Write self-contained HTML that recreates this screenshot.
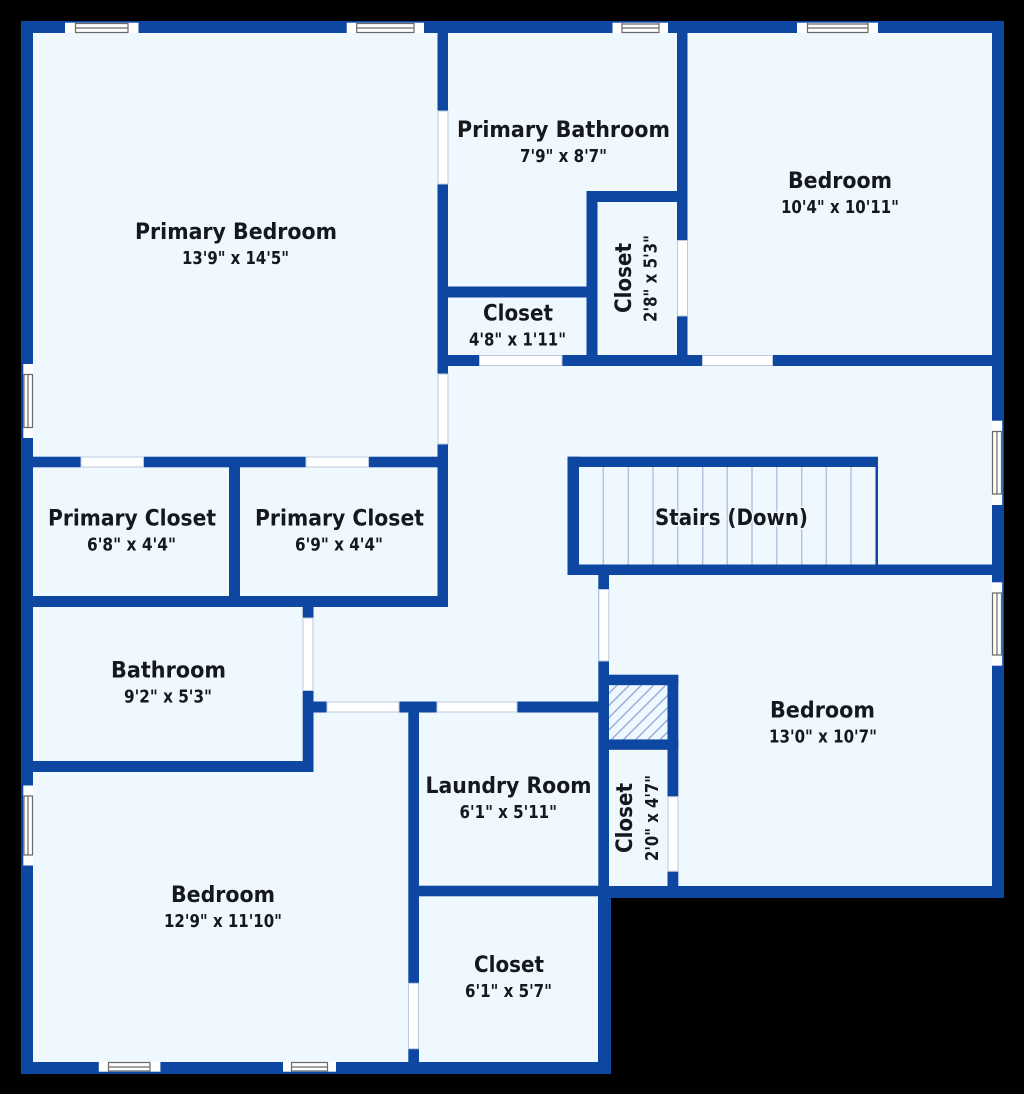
<!DOCTYPE html>
<html><head><meta charset="utf-8"><style>
html,body{margin:0;padding:0;background:#000}
svg{display:block}
text{font-family:"DejaVu Sans","Liberation Sans",sans-serif;font-weight:bold;fill:#15181d}
.t{font-size:22px}.s{font-size:17.5px}
.d{fill:#fff;stroke:#bccadc;stroke-width:1}
.w{fill:#fff;stroke:none}
.l{fill:none;stroke:#6a6a6a;stroke-width:1.2}
.tr{stroke:#b3c5de;stroke-width:1.5}
</style></head><body>
<svg xmlns="http://www.w3.org/2000/svg" width="1024" height="1094" viewBox="0 0 1024 1094">
<defs><pattern id="h" width="8.6" height="8.6" patternUnits="userSpaceOnUse" patternTransform="rotate(45)"><rect width="8.6" height="8.6" fill="#f0f8ff"/><rect x="0" width="1.3" height="8.6" fill="#8ea6d8"/></pattern></defs>
<rect width="1024" height="1094" fill="#000"/>
<polygon fill="#0d47a1" points="21,21 1004,21 1004,898 611,898 611,1074 21,1074"/>
<polygon fill="#f0f8ff" points="33,33 992,33 992,886 598,886 598,1062 33,1062"/>

<g fill="#0d47a1">
<rect x="437.5" y="33" width="10.5" height="574"/>
<rect x="448" y="286.5" width="139" height="11"/>
<rect x="586.5" y="191" width="11" height="164"/>
<rect x="587" y="191" width="90" height="11"/>
<rect x="677" y="33" width="10.5" height="322"/>
<rect x="437.5" y="355" width="554.5" height="11"/>
<rect x="33" y="456.7" width="415" height="10.6"/>
<rect x="229" y="467" width="11" height="130"/>
<rect x="33" y="596" width="415" height="11"/>
<rect x="302.7" y="607" width="10.8" height="165"/>
<rect x="33" y="761" width="280" height="11"/>
<rect x="303" y="701.5" width="296" height="11"/>
<rect x="408.3" y="712" width="10.7" height="350"/>
<rect x="419" y="885.7" width="180" height="10.6"/>
<rect x="598.3" y="575" width="10.7" height="490"/>
<rect x="609" y="674.7" width="69.3" height="10.6"/>
<rect x="609" y="739.3" width="69.3" height="10.5"/>
<rect x="667.5" y="675" width="10.8" height="212"/>
<rect x="567.5" y="456.7" width="310.5" height="10.3"/>
<rect x="567.5" y="456.7" width="11.5" height="118"/>
<rect x="567.5" y="564.5" width="425" height="10.5"/>
<rect x="875.5" y="457" width="2.5" height="108"/>
</g>
<rect x="609" y="685.3" width="58.5" height="54" fill="url(#h)"/>
<g class="tr">
<line x1="603.3" y1="467" x2="603.3" y2="564.5"/><line x1="628.3" y1="467" x2="628.3" y2="564.5"/><line x1="653" y1="467" x2="653" y2="564.5"/><line x1="677.7" y1="467" x2="677.7" y2="564.5"/><line x1="702.7" y1="467" x2="702.7" y2="564.5"/><line x1="727.3" y1="467" x2="727.3" y2="564.5"/><line x1="752" y1="467" x2="752" y2="564.5"/><line x1="776.7" y1="467" x2="776.7" y2="564.5"/><line x1="801.7" y1="467" x2="801.7" y2="564.5"/><line x1="826.3" y1="467" x2="826.3" y2="564.5"/><line x1="851" y1="467" x2="851" y2="564.5"/>
</g>

<!-- doors -->
<g class="d">
<rect x="438" y="111" width="10" height="73"/>
<rect x="438" y="374" width="10" height="70"/>
<rect x="677.5" y="240.5" width="10" height="75.5"/>
<rect x="479.5" y="355.5" width="82.5" height="10"/>
<rect x="702.5" y="355.5" width="70" height="10"/>
<rect x="81" y="457" width="62.5" height="10"/>
<rect x="306" y="457" width="62.5" height="10"/>
<rect x="303" y="618" width="10" height="72.5"/>
<rect x="598.8" y="589.5" width="10" height="71.5"/>
<rect x="327" y="702" width="72" height="10"/>
<rect x="437" y="702" width="80" height="10"/>
<rect x="668" y="796.7" width="10" height="74.6"/>
<rect x="408.5" y="983.3" width="10" height="65.4"/>
</g>

<!-- windows -->
<g class="w">
<rect x="65" y="22.7" width="73.5" height="10.3"/><rect x="346.7" y="22.7" width="77.3" height="10.3"/><rect x="612.5" y="22.7" width="55.5" height="10.3"/><rect x="797" y="22.7" width="81" height="10.3"/>
<rect x="98.8" y="1061.7" width="61.6" height="10"/><rect x="283" y="1061.7" width="53" height="10"/>
<rect x="23.3" y="364" width="9.7" height="74"/><rect x="23.3" y="785.5" width="9.7" height="80"/>
<rect x="991.8" y="420.7" width="10.4" height="84.3"/><rect x="991.8" y="582.3" width="10.4" height="83.4"/>
</g>
<g class="l">
<path d="M75.5 23.5H128M75.5 28H128M75.5 32.5H128M75.5 23V33M128 23V33"/>
<path d="M356.7 23.5H414M356.7 28H414M356.7 32.5H414M356.7 23V33M414 23V33"/>
<path d="M622 24H659M622 28H659M622 32.5H659M622 23V33M659 23V33"/>
<path d="M807.5 24H868M807.5 28H868M807.5 32.5H868M807.5 23V33M868 23V33"/>
<path d="M108.5 1062.5H150M108.5 1067H150M108.5 1071H150M108.5 1062V1071.7M150 1062V1071.7"/>
<path d="M291.5 1062.5H327.5M291.5 1067H327.5M291.5 1071H327.5M291.5 1062V1071.7M327.5 1062V1071.7"/>
<path d="M24 374.5V427.5M28 374.5V427.5M32.5 374.5V427.5M23.5 374.5H33M23.5 427.5H33"/>
<path d="M24 796V855M28 796V855M32.5 796V855M23.5 796H33M23.5 855H33"/>
<path d="M992.5 431.5V494M997 431.5V494M1001.5 431.5V494M992 431.5H1002M992 494H1002"/>
<path d="M992.5 593V655M997 593V655M1001.5 593V655M992 593H1002M992 655H1002"/>
</g>

<!-- labels -->
<text class="t" x="135" y="239" textLength="202" lengthAdjust="spacingAndGlyphs">Primary Bedroom</text>
<text class="s" x="182" y="264" textLength="107" lengthAdjust="spacingAndGlyphs">13'9" x 14'5"</text>
<text class="t" x="457" y="137" textLength="213" lengthAdjust="spacingAndGlyphs">Primary Bathroom</text>
<text class="s" x="520" y="162" textLength="87" lengthAdjust="spacingAndGlyphs">7'9" x 8'7"</text>
<text class="t" x="788" y="188" textLength="104" lengthAdjust="spacingAndGlyphs">Bedroom</text>
<text class="s" x="781" y="213" textLength="118" lengthAdjust="spacingAndGlyphs">10'4" x 10'11"</text>
<text class="t" x="483" y="320.5" textLength="70" lengthAdjust="spacingAndGlyphs">Closet</text>
<text class="s" x="469" y="345.5" textLength="97" lengthAdjust="spacingAndGlyphs">4'8" x 1'11"</text>
<text class="t" transform="translate(631,313) rotate(-90)" textLength="70" lengthAdjust="spacingAndGlyphs">Closet</text>
<text class="s" transform="translate(656.5,322) rotate(-90)" textLength="87" lengthAdjust="spacingAndGlyphs">2'8" x 5'3"</text>
<text class="t" x="48" y="525.5" textLength="168" lengthAdjust="spacingAndGlyphs">Primary Closet</text>
<text class="s" x="87" y="550.5" textLength="89" lengthAdjust="spacingAndGlyphs">6'8" x 4'4"</text>
<text class="t" x="255" y="525.5" textLength="169" lengthAdjust="spacingAndGlyphs">Primary Closet</text>
<text class="s" x="295" y="550.5" textLength="88" lengthAdjust="spacingAndGlyphs">6'9" x 4'4"</text>
<text class="t" x="655" y="525" textLength="153" lengthAdjust="spacingAndGlyphs" style="paint-order:stroke;stroke:#f0f8ff;stroke-width:3px">Stairs (Down)</text>
<text class="t" x="111" y="677.5" textLength="115" lengthAdjust="spacingAndGlyphs">Bathroom</text>
<text class="s" x="124" y="702.5" textLength="88" lengthAdjust="spacingAndGlyphs">9'2" x 5'3"</text>
<text class="t" x="770" y="717.5" textLength="105" lengthAdjust="spacingAndGlyphs">Bedroom</text>
<text class="s" x="769" y="742.5" textLength="108" lengthAdjust="spacingAndGlyphs">13'0" x 10'7"</text>
<text class="t" x="425.5" y="793" textLength="166" lengthAdjust="spacingAndGlyphs">Laundry Room</text>
<text class="s" x="459.5" y="818" textLength="97.5" lengthAdjust="spacingAndGlyphs">6'1" x 5'11"</text>
<text class="t" transform="translate(632,853) rotate(-90)" textLength="70" lengthAdjust="spacingAndGlyphs">Closet</text>
<text class="s" transform="translate(658,861) rotate(-90)" textLength="86" lengthAdjust="spacingAndGlyphs">2'0" x 4'7"</text>
<text class="t" x="171" y="902" textLength="104" lengthAdjust="spacingAndGlyphs">Bedroom</text>
<text class="s" x="164" y="927" textLength="118" lengthAdjust="spacingAndGlyphs">12'9" x 11'10"</text>
<text class="t" x="474" y="972" textLength="70" lengthAdjust="spacingAndGlyphs">Closet</text>
<text class="s" x="465" y="997" textLength="87" lengthAdjust="spacingAndGlyphs">6'1" x 5'7"</text>
</svg>
</body></html>
